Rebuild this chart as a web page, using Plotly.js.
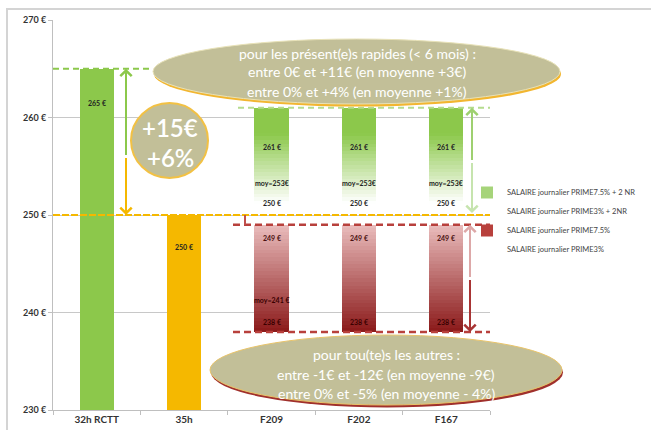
<!DOCTYPE html>
<html><head><meta charset="utf-8">
<script src="https://cdn.plot.ly/plotly-3.0.1.min.js"></script>
<style>html,body{margin:0;padding:0;background:#fff;}#chart{width:651px;height:430px;}</style>
</head><body><div id="chart"></div>
<script>
// ---- data ----
const categories = ['32h RCTT', '35h', 'F209', 'F202', 'F167'];
const refCategories = ['32h RCTT', '35h'];
const refValues = [265, 250];
const fCategories = ['F209', 'F202', 'F167'];
const prime75_2NR = [261, 261, 261];
const prime3_2NR = [250, 250, 250];
const prime75 = [249, 249, 249];
const prime3 = [238, 238, 238];
const moyPresent = [253, 253, 253];
const moyOthers = [241, null, null];
const seriesNames = ['SALAIRE journalier PRIME7.5% + 2 NR', 'SALAIRE journalier PRIME3% + 2NR',
                     'SALAIRE journalier PRIME7.5%', 'SALAIRE journalier PRIME3%'];
const yTicks = [230, 240, 250, 260, 270];
const topBubbleLines = ['pour les présent(e)s rapides (< 6 mois) :', 'entre 0€ et +11€ (en moyenne +3€)', 'entre 0% et +4% (en moyenne +1%)'];
const bottomBubbleLines = ['pour tou(te)s les autres :', 'entre -1€ et -12€ (en moyenne -9€)', 'entre 0% et -5% (en moyenne - 4%)'];
const gainLines = ['+15€', '+6%'];

// ---- helpers (pixel -> axis / paper, for decorations only) ----
const X = px => (px - 53) / 87.4 - 0.5;
const Y = py => 230 + (410 - py) / 9.75;
const PX = px => (px - 53) / 437;
const PY = py => (410 - py) / 390;
const FONT = 'Lato, "Open Sans", sans-serif';
const BARW = 0.39;

function mix(c1, c2, t) {
  const r = Math.round(c1[0] + (c2[0] - c1[0]) * t);
  const g = Math.round(c1[1] + (c2[1] - c1[1]) * t);
  const b = Math.round(c1[2] + (c2[2] - c1[2]) * t);
  return `rgb(${r},${g},${b})`;
}
function gradientTrace(cats, lo, hi, colorAt, n) {
  const x = [], base = [], y = [], color = [];
  cats.forEach((c, i) => {
    const step = (hi[i] - lo[i]) / n;
    for (let k = 0; k < n; k++) {
      x.push(c); base.push(lo[i] + k * step); y.push(step * 1.06);
      color.push(colorAt(k / (n - 1)));   // 0 = bottom, 1 = top
    }
  });
  return { type: 'bar', x, base, y, width: BARW, marker: { color, line: { width: 0 } },
           showlegend: false, hoverinfo: 'skip' };
}

const green = [140, 200, 75], white = [255, 255, 255];
const pink = [232, 186, 186], darkRed = [140, 28, 28];

const traces = [
  { type: 'bar', x: refCategories, y: refValues, width: BARW,
    marker: { color: ['#8CC84B', '#F5B800'], line: { width: 0 } }, showlegend: false },
  gradientTrace(fCategories, prime3_2NR, prime75_2NR, t => mix(white, green, Math.min(1, Math.max(0, (t - 0.1) * 1.5))), 30),
  gradientTrace(fCategories, prime3, prime75, t => mix(darkRed, pink, t), 30),
];
const legendColors = ['#A6D47A', 'rgba(0,0,0,0)', '#B8403C', 'rgba(0,0,0,0)'];
seriesNames.forEach((nm, i) => {
  traces.push({ type: 'bar', name: nm, x: [fCategories[0]], y: [null],
    marker: { color: legendColors[i] }, showlegend: true, hoverinfo: 'skip' });
});

// ---- shapes ----
const shapes = [];
// chart frame
shapes.push({ type: 'rect', xref: 'paper', yref: 'paper', x0: PX(7), x1: 1.5, y0: -0.2, y1: PY(9),
  line: { color: '#D4D4D4', width: 2 }, layer: 'below' });
// dashed reference lines
shapes.push({ type: 'line', x0: -0.5, x1: X(150), y0: refValues[0], y1: refValues[0], line: { color: '#8CC84B', width: 2, dash: '6px,4px' } });
shapes.push({ type: 'line', x0: X(238), x1: 4.5, y0: prime75_2NR[0], y1: prime75_2NR[0], line: { color: '#B5DC8E', width: 2, dash: '6px,4px' } });
shapes.push({ type: 'line', x0: -0.5, x1: 4.5, y0: refValues[1], y1: refValues[1], line: { color: '#F5B800', width: 2, dash: '7px,2px' } });
shapes.push({ type: 'line', x0: X(233), x1: 4.5, y0: prime75[0], y1: prime75[0], line: { color: '#B8403C', width: 2.5, dash: '7px,4px' } });
shapes.push({ type: 'line', x0: X(233), x1: 4.5, y0: prime3[0], y1: prime3[0], line: { color: '#B8403C', width: 2.5, dash: '7px,4px' } });
shapes.push({ type: 'line', x0: X(245), x1: X(245), y0: refValues[1], y1: prime75[0], line: { color: '#C0504D', width: 2 } });
// bubbles (shadow + body), paper-referenced so they may extend past the plot area
function bubble(x0, x1, y0, y1, shadow, edge) {
  shapes.push({ type: 'circle', xref: 'paper', yref: 'paper', x0: PX(x0 + 1), x1: PX(x1 + 1), y0: PY(y1 + 2.5), y1: PY(y0 + 2.5),
    fillcolor: shadow, line: { width: 0 } });
  shapes.push({ type: 'circle', xref: 'paper', yref: 'paper', x0: PX(x0), x1: PX(x1), y0: PY(y1), y1: PY(y0),
    fillcolor: '#C2BF98', line: { color: edge, width: 1 } });
}
bubble(153, 560, 39, 104, '#F2B630', '#E8E2B8');
bubble(210, 562, 335, 405, '#A0302C', '#E9C46A');
shapes.push({ type: 'circle', xref: 'paper', yref: 'paper', x0: PX(131), x1: PX(208), y0: PY(178), y1: PY(103),
  fillcolor: '#C2BF98', line: { color: '#F2C144', width: 2 } });

// ---- annotations ----
const ann = [];
const lbl = (x, y, text, color, size) => ann.push({ x, y, text, showarrow: false, xref: 'x', yref: 'y',
  xanchor: 'center', yanchor: 'middle',
  font: { family: FONT, size: size || 7, color: color || '#222', weight: 'bold' } });
lbl(0, refValues[0] - 3.5, refValues[0] + ' €');
lbl(1, refValues[1] - 3.3, refValues[1] + ' €');
fCategories.forEach((c, i) => {
  const xi = categories.indexOf(c);
  lbl(xi, prime75_2NR[i] - 4, prime75_2NR[i] + ' €');
  lbl(xi, moyPresent[i] + 0.3, 'moy=' + moyPresent[i] + '€');
  lbl(xi, prime3_2NR[i] + 1.2, prime3_2NR[i] + ' €');
  lbl(xi, prime75[i] - 1.4, prime75[i] + ' €', '#4a1010');
  lbl(xi, prime3[i] + 1, prime3[i] + ' €', '#3a0000');
  if (moyOthers[i] != null) lbl(xi, moyOthers[i] + 0.3, 'moy=' + moyOthers[i] + ' €', '#3a0000');
});
// arrows
const arrow = (x, yHead, yTail, color, w) => ann.push({ xref: 'x', yref: 'y', axref: 'x', ayref: 'y',
  x, y: yHead, ax: x, ay: yTail, text: '', showarrow: true, arrowhead: 4, arrowsize: 1.1, arrowwidth: w || 2, arrowcolor: color });
const xa = X(126);
arrow(xa, refValues[0], 256, '#8CC84B');
arrow(xa, refValues[1], 256, '#F5B800');
const xg = X(472), gm = (prime75_2NR[0] + prime3_2NR[0]) / 2;
arrow(xg, prime75_2NR[0], gm, '#9ED070');
arrow(xg, prime3_2NR[0] + 0.2, gm, '#C6E4AE');
const xr = X(470), rm = (prime75[0] + prime3[0]) / 2;
arrow(xr, prime75[0], rm, '#DDA8A8');
arrow(xr, prime3[0], rm, '#A83434');
// bubble texts
const txt = (px, py, text, size, weight) => ann.push({ xref: 'paper', yref: 'paper', x: PX(px), y: PY(py), text, showarrow: false,
  xanchor: 'center', yanchor: 'middle',
  font: { family: FONT, size, color: '#FFFFFF', weight: weight || 'normal' } });
[53, 72, 91].forEach((py, i) => txt(357, py, topBubbleLines[i], 14));
[354, 374, 393].forEach((py, i) => txt(386, py, bottomBubbleLines[i], 14));
txt(170, 127, gainLines[0], 24, 600);
txt(170, 157, gainLines[1], 24, 600);

const layout = {
  width: 651, height: 430,
  margin: { l: 53, r: 161, t: 20, b: 20, autoexpand: false },
  paper_bgcolor: '#FFFFFF', plot_bgcolor: '#FFFFFF',
  barmode: 'overlay', bargap: 0,
  font: { family: FONT, color: '#333' },
  xaxis: { type: 'category', categoryarray: categories, categoryorder: 'array', range: [-0.5, 4.5],
    showgrid: false, showline: true, linecolor: '#BFBFBF', linewidth: 1,
    ticks: 'outside', tickson: 'boundaries', ticklen: 4, tickcolor: '#BFBFBF',
    tickfont: { family: FONT, size: 10, color: '#333', weight: 'bold' }, fixedrange: true },
  yaxis: { range: [230, 270], tickvals: yTicks, ticktext: yTicks.map(v => v + ' €'),
    showgrid: true, gridcolor: '#C8C8C8', gridwidth: 1, zeroline: false,
    showline: true, linecolor: '#BFBFBF', ticks: 'outside', ticklen: 4, tickcolor: '#BFBFBF',
    tickfont: { family: FONT, size: 9, color: '#333', weight: 'bold' }, fixedrange: true },
  legend: { x: PX(467), xanchor: 'left', y: PY(178), yanchor: 'top',
    bgcolor: 'rgba(0,0,0,0)', font: { family: FONT, size: 7.5, color: '#444' },
    itemwidth: 30, traceorder: 'normal', tracegroupgap: 0 },
  shapes, annotations: ann,
  showlegend: true,
};
Plotly.newPlot('chart', traces, layout, { displayModeBar: false, staticPlot: true });
</script></body></html>
